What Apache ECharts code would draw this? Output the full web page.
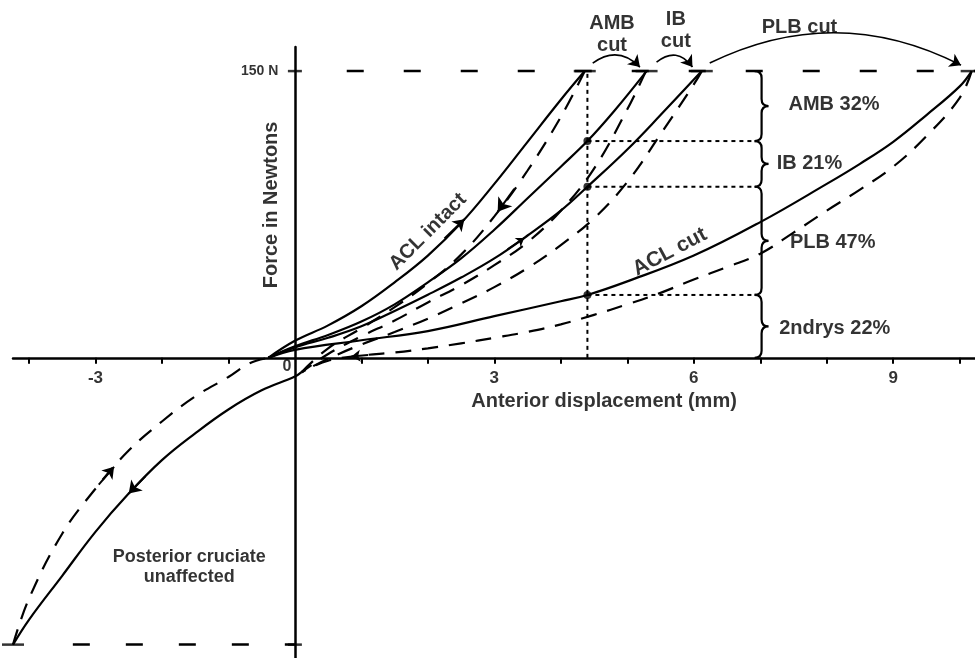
<!DOCTYPE html>
<html>
<head>
<meta charset="utf-8">
<script src="https://cdn.jsdelivr.net/npm/echarts@6/dist/echarts.min.js"></script>
<style>
  html, body { margin: 0; padding: 0; background: #fff; }
  #main { width: 975px; height: 658px; }
</style>
</head>
<body>
<div id="main"></div>
<script>
// force (N) against anterior displacement (mm); loading = solid, unloading = dashed
var aclIntactLoad = [[-0.4, 0], [0, 8.9], [0.5, 17], [1, 27], [1.5, 39.5], [2, 53.5], [2.5, 70.5], [3, 91], [3.5, 113], [4, 135], [4.36, 150]];
var aclIntactUnload = [[4.36, 150], [4, 126], [3.5, 98], [3, 74], [2.5, 54], [2, 39], [1.5, 26.5], [1, 15.5], [0.5, 5], [0.1, -7.5]];
var ambCutLoad = [[-0.4, 0], [0, 6], [0.5, 12], [1, 19], [1.5, 28], [2, 39.5], [2.5, 52], [3, 67], [3.5, 83.5], [4, 100], [4.4, 113.4], [4.8, 129], [5.29, 150]];
var ambCutUnload = [[5.28, 150], [5, 130], [4.5, 99], [4, 77], [3.5, 60.5], [3, 48.5], [2.5, 38], [2, 29], [1.5, 19.5], [1, 11.3], [0.5, 2], [0.1, -7.5]];
var ibCutLoad = [[-0.4, 0], [0, 5.5], [0.5, 10.5], [1, 16.5], [1.5, 24.5], [2, 33], [2.5, 42], [3, 52], [3.5, 64], [4, 77], [4.4, 89.5], [5, 109], [5.5, 127], [6.12, 150]];
var ibCutUnload = [[6.12, 150], [6, 143], [5.5, 117], [5, 92], [4.5, 73], [4, 59], [3.5, 47], [3, 37], [2.5, 28.5], [2, 20.5], [1.5, 13.5], [1, 7], [0.5, -0.5], [0.1, -7.5]];
var aclCutLoad = [[-0.4, 0], [0, 4.2], [1, 9.2], [2, 14], [3, 21.8], [4, 29.6], [4.4, 32.9], [5, 40], [6, 53.5], [7, 71], [8, 91], [8.5, 101.5], [9, 113], [9.5, 127], [10, 142], [10.18, 150]];
var aclCutUnload = [[10.18, 150], [10, 136], [9.5, 116], [9, 100], [8.5, 88], [8, 77], [7.5, 65.5], [7, 54.5], [6.5, 47.5], [6, 41], [5.5, 34], [5, 28], [4.5, 22.5], [4, 17.5], [3.5, 13.6], [3, 10.5], [2.5, 7.6], [2, 5], [1.5, 2.8], [1, 1.2], [0.5, -1.5], [0.1, -7.5]];
var posteriorPush = [[0.1, -7.5], [0, -9.8], [-0.5, -17], [-1, -27], [-1.5, -39.5], [-2, -53.5], [-2.5, -71], [-3, -91], [-3.5, -114], [-4, -137], [-4.24, -150]];
var posteriorReturn = [[-4.24, -150], [-4, -126], [-3.5, -92], [-3, -68.5], [-2.5, -48.5], [-2, -33.3], [-1.5, -20.2], [-1, -10], [-0.68, -2.8], [-0.4, 0]];

var peakForce = 150;
var splitX = 4.40;
var splitLevels = [113.4, 89.5, 32.9];
var braceX = 7.02;
var braceBounds = [150, 113.4, 89.5, 32.9, 0];
var xTickValues = [-4, -3, -2, -1, 1, 2, 3, 4, 5, 6, 7, 8, 9, 10];
var xLabelValues = [-3, 3, 6, 9];

// cut arrows along the top: from peak to peak
var cutArrows = [
  { from: [4.48, 154.2], to: [5.19, 152.1], bend: 0.43 },
  { from: [5.44, 154.7], to: [5.98, 152.1], bend: 0.52 },
  { from: [6.24, 154.2], to: [10.02, 153.1], bend: 0.25 }
];
// direction arrows sitting on the curves: tail -> head
var curveArrows = [
  { from: [2.25, 62.5], to: [2.55, 72.5], size: 11 },
  { from: [3.3, 88.4], to: [3.05, 76.4], size: 13 },
  { from: [3.2, 56.8], to: [3.45, 62.7], size: 8 },
  { from: [-2.25, -62], to: [-2.5, -71], size: 12 },
  { from: [-2.95, -66.3], to: [-2.72, -57], size: 11 },
  { from: [1.1, 1.5], to: [0.85, 0.7], size: 9 }
];

var notes = [
  { text: 'AMB 32%', at: [8.11, 132.3], size: 20 },
  { text: 'IB 21%', at: [7.74, 101.9], size: 20 },
  { text: 'PLB 47%', at: [8.09, 60.1], size: 20 },
  { text: '2ndrys 22%', at: [8.12, 15.2], size: 20 },
  { text: 'AMB\ncut', at: [4.77, 169.4], size: 20 },
  { text: 'IB\ncut', at: [5.73, 171.5], size: 20 },
  { text: 'PLB cut', at: [7.59, 173], size: 20 },
  { text: 'ACL intact', at: [2.0, 65.9], size: 20, rotate: 45 },
  { text: 'ACL cut', at: [5.64, 55.4], size: 21, rotate: 28 },
  { text: 'Posterior cruciate\nunaffected', at: [-1.59, -109.3], size: 18 },
  { text: 'Force in Newtons', at: [-0.35, 80], size: 20, rotate: 90 },
  { text: 'Anterior displacement (mm)', at: [4.65, -23], size: 20 },
  { text: '0', at: [-0.12, -4.5], size: 16 },
  { text: '150 N', at: [-0.53, peakForce], size: 14 }
];
xLabelValues.forEach(function (v) {
  notes.push({ text: String(v), at: [v, -10.5], size: 17 });
});

var ink = '#000';
var font = "'Liberation Sans', Arial, sans-serif";

function curve(data, dashed) {
  return {
    type: 'line', data: data, symbol: 'none', smooth: 0.4, clip: false, silent: true, z: 3,
    lineStyle: { color: ink, width: 2.2, type: dashed ? [16, 11] : 'solid' }
  };
}
function guide(data, dash, width) {
  return {
    type: 'line', data: data, symbol: 'none', clip: false, silent: true, z: 2,
    lineStyle: { color: ink, width: width, type: dash }
  };
}

var series = [
  curve(aclIntactLoad, false), curve(aclIntactUnload, true),
  curve(ambCutLoad, false), curve(ambCutUnload, true),
  curve(ibCutLoad, false), curve(ibCutUnload, true),
  curve(aclCutLoad, false), curve(aclCutUnload, true),
  curve(posteriorPush, false), curve(posteriorReturn, true)
];

// 150 N limits
series.push(guide([[0.78, peakForce], [10.23, peakForce]], [17, 40], 2.5));
series.push(guide([[-3.34, -peakForce], [0, -peakForce]], [17, 36], 2.5));

// dotted split lines
series.push(guide([[splitX, 0], [splitX, peakForce]], [4, 4], 2));
splitLevels.forEach(function (lv) {
  series.push(guide([[splitX, lv], [braceX - 0.08, lv]], [4, 4], 2));
});

// split points
series.push({
  type: 'scatter', symbol: 'circle', symbolSize: 8, silent: true, z: 4,
  itemStyle: { color: ink },
  data: splitLevels.map(function (lv) { return [splitX, lv]; })
});

// caps at the peaks
var caps = [aclIntactLoad, ambCutLoad, ibCutLoad, aclCutLoad].map(function (c) { return c[c.length - 1]; });
caps.push(posteriorPush[posteriorPush.length - 1]);
series.push({
  type: 'scatter', symbol: 'rect', symbolSize: [22, 2.5], silent: true, clip: false, z: 4,
  itemStyle: { color: ink }, data: caps
});
// crossing ticks on the force axis
series.push({
  type: 'scatter', symbol: 'rect', symbolSize: [14, 2.5], silent: true, clip: false, z: 4,
  itemStyle: { color: ink }, data: [[0, peakForce], [0, -peakForce]]
});

// braces
var braceSegs = [];
for (var i = 0; i < braceBounds.length - 1; i++) braceSegs.push([braceX, braceBounds[i], braceBounds[i + 1]]);
series.push({
  type: 'custom', coordinateSystem: 'cartesian2d', silent: true, z: 3,
  encode: { x: 0, y: 1 },
  data: braceSegs,
  renderItem: function (params, api) {
    var a = api.coord([api.value(0), api.value(1)]);
    var b = api.coord([api.value(0), api.value(2)]);
    var x = a[0], y1 = a[1], y2 = b[1], ym = (y1 + y2) / 2, h = 7, w = 7;
    var d = 'M' + (x - w) + ' ' + y1 + ' Q' + x + ' ' + y1 + ' ' + x + ' ' + (y1 + h) +
      ' L' + x + ' ' + (ym - h) + ' Q' + x + ' ' + ym + ' ' + (x + w) + ' ' + ym +
      ' Q' + x + ' ' + ym + ' ' + x + ' ' + (ym + h) +
      ' L' + x + ' ' + (y2 - h) + ' Q' + x + ' ' + y2 + ' ' + (x - w) + ' ' + y2;
    return { type: 'path', shape: { pathData: d }, style: { fill: 'none', stroke: ink, lineWidth: 2.2 } };
  }
});

// arrows
series.push({
  type: 'lines', coordinateSystem: 'cartesian2d', polyline: false, clip: false, silent: true, z: 4,
  symbol: ['none', 'arrow'], symbolSize: 11,
  lineStyle: { color: ink, width: 1.6, opacity: 1 },
  data: cutArrows.map(function (c) {
    return { coords: [c.from, c.to], lineStyle: { curveness: c.bend } };
  })
});
curveArrows.forEach(function (c) {
  series.push({
    type: 'lines', coordinateSystem: 'cartesian2d', polyline: false, clip: false, silent: true, z: 4,
    symbol: ['none', 'arrow'], symbolSize: c.size,
    lineStyle: { color: ink, width: 2, opacity: 1, curveness: 0 },
    data: [{ coords: [c.from, c.to] }]
  });
});

// text annotations
series.push({
  type: 'scatter', symbol: 'circle', symbolSize: 0, clip: false, silent: true, z: 5,
  itemStyle: { color: ink },
  data: notes.map(function (n) {
    return {
      value: n.at,
      label: {
        show: true, position: 'inside', formatter: n.text, rotate: n.rotate || 0,
        color: ink, fontFamily: font, fontWeight: 'bold', fontSize: n.size,
        textBorderWidth: 0, textBorderColor: 'transparent',
        lineHeight: n.size + 2, align: 'center', verticalAlign: 'middle'
      }
    };
  })
});

var option = {
  animation: false,
  backgroundColor: '#fff',
  grid: { left: 13, right: 0, top: 47, bottom: 0, containLabel: false, outerBoundsMode: 'none' },
  xAxis: {
    type: 'value', min: -4.24, max: 10.23,
    splitLine: { show: false },
    axisLine: { onZero: true, lineStyle: { color: ink, width: 2.5 } },
    axisTick: { show: true, customValues: xTickValues, length: 6, lineStyle: { color: ink, width: 2 } },
    axisLabel: { show: false }
  },
  yAxis: {
    type: 'value', min: -157, max: 162.6,
    splitLine: { show: false },
    axisLine: { onZero: true, lineStyle: { color: ink, width: 2.5 } },
    axisTick: { show: false },
    axisLabel: { show: false }
  },
  series: series
};

var chart = echarts.init(document.getElementById('main'));
chart.setOption(option);
</script>
</body>
</html>
